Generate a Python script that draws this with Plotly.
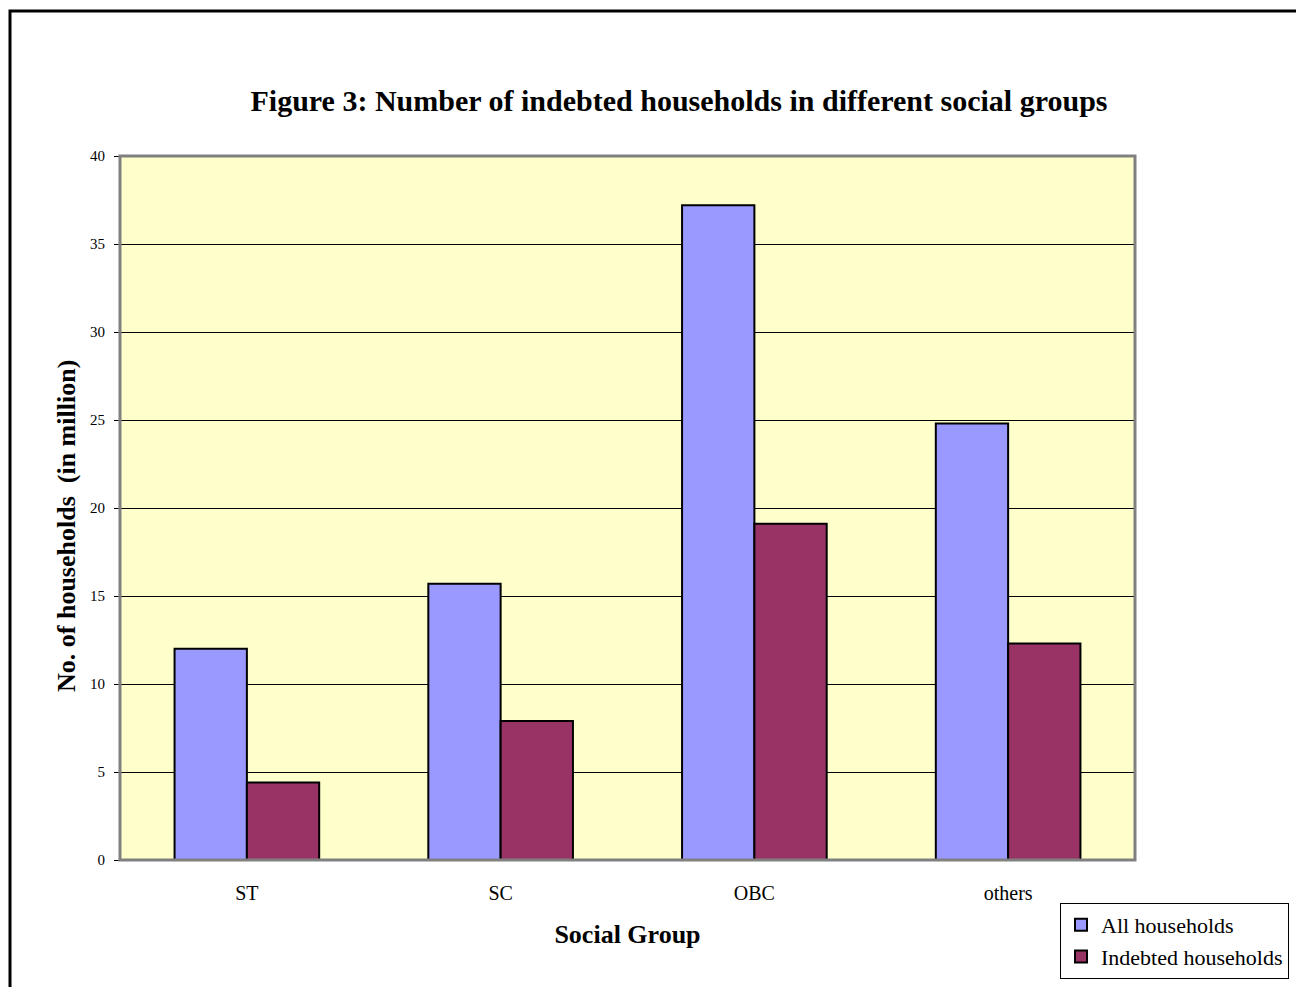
import plotly.graph_objects as go

categories = ["ST", "SC", "OBC", "others"]
all_households = [12.0, 15.7, 37.2, 24.8]
indebted_households = [4.4, 7.9, 19.1, 12.3]
y_ticks = [0, 5, 10, 15, 20, 25, 30, 35, 40]

OFF = 8  # page body margin
W, H = 1304 - OFF, 987 - OFF
L, R, T, B = 120 - OFF, 1304 - 1135, 156 - OFF, 987 - 860
pw, ph = W - L - R, H - T - B

def px(x):
    return (x - OFF - L) / pw

def py(y):
    return (H - B - (y - OFF)) / ph

font = "Liberation Serif, Times New Roman, serif"

fig = go.Figure()
fig.add_trace(go.Bar(x=categories, y=all_households, name="All households",
                     marker=dict(color="#9999FF", line=dict(color="black", width=2))))
fig.add_trace(go.Bar(x=categories, y=indebted_households, name="Indebted households",
                     marker=dict(color="#993366", line=dict(color="black", width=2))))

fig.update_layout(
    width=W, height=H,
    margin=dict(l=L, r=R, t=T, b=B, autoexpand=False),
    paper_bgcolor="white",
    plot_bgcolor="#FFFFCC",
    barmode="group", bargap=0.43, bargroupgap=0,
    font=dict(family=font, color="black"),
    title=dict(text="<b>Figure 3: Number of indebted households in different social groups</b>",
               x=px(679), xanchor="center", xref="paper",
               y=1 - (100 - OFF) / H, yanchor="middle", yref="container",
               font=dict(size=30, family=font, color="black")),
    xaxis=dict(
        showgrid=False, ticks="", showline=False,
        tickfont=dict(size=20, family=font), ticklabelstandoff=19,
        title=dict(text="<b>Social Group</b>", font=dict(size=26, family=font), standoff=21),
    ),
    yaxis=dict(
        range=[0, 40], tickvals=y_ticks, showgrid=True, gridcolor="black", gridwidth=1,
        ticks="outside", ticklen=5, tickcolor="black", showline=False,
        tickfont=dict(size=15, family=font), ticklabelstandoff=6,
        zeroline=False,
    ),
    annotations=[
        dict(text="<b>No. of households  (in million)</b>", textangle=-90,
             xref="paper", yref="paper", x=px(66), y=py(526),
             xanchor="center", yanchor="middle", showarrow=False,
             font=dict(size=26, family=font, color="black")),
    ],
    legend=dict(
        x=px(1060), y=py(903), xanchor="left", yanchor="top",
        bgcolor="white", bordercolor="black", borderwidth=1,
        font=dict(size=22, family=font, color="black"),
        itemwidth=30, tracegroupgap=0,
    ),
    shapes=[
        dict(type="rect", xref="paper", yref="paper", x0=0, x1=1, y0=0, y1=1,
             line=dict(color="#808080", width=3), layer="above"),
        dict(type="rect", xref="paper", yref="paper",
             x0=px(10), x1=px(1330), y0=py(11), y1=py(1010),
             line=dict(color="black", width=3), layer="above"),
    ],
)

fig.write_html("out.html")
